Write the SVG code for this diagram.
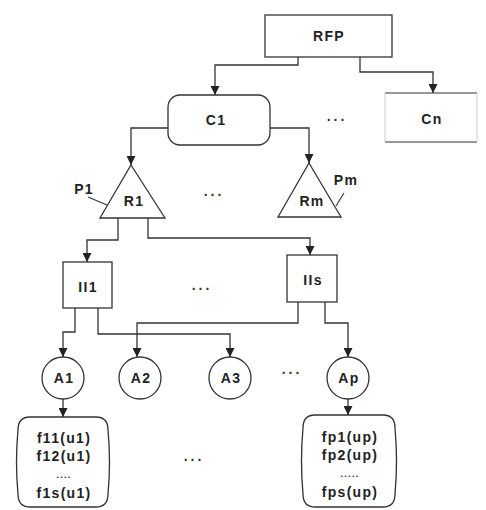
<svg xmlns="http://www.w3.org/2000/svg" width="486" height="510" viewBox="0 0 486 510">
<defs>
<marker id="arr" markerWidth="9" markerHeight="9" refX="9" refY="4.5" orient="auto" markerUnits="userSpaceOnUse">
<path d="M0,0 L9,4.5 L0,9 z" fill="#222"/>
</marker>
<style>
.n{fill:#fff;stroke:#333;stroke-width:1.3}
.t{font-family:"Liberation Sans",Arial,sans-serif;font-size:14px;font-weight:bold;letter-spacing:1.3px;fill:#222;text-anchor:middle;dominant-baseline:central}
.d{font-family:"Liberation Sans",Arial,sans-serif;font-size:14px;font-weight:bold;letter-spacing:3px;fill:#333;text-anchor:middle}
.c{fill:none;stroke:#333;stroke-width:1.3;marker-end:url(#arr)}
.l{fill:none;stroke:#333;stroke-width:1.1}
</style>
</defs>
<rect width="486" height="510" fill="#fff"/>
<g id="connectors">
<path class="c" d="M298,57 V65 H215 V95"/>
<path class="c" d="M360,57 V72 H433 V93"/>
<path class="c" d="M168,128 H131 V165"/>
<path class="c" d="M270,128 H309 V163"/>
<path class="c" d="M118,218 V240 H87 V262"/>
<path class="c" d="M148,218 V238 H310 V255"/>
<path class="c" d="M75,308 V332 H63 V357"/>
<path class="c" d="M98,308 V334 H230 V357"/>
<path class="c" d="M298,302 V323 H137 V357"/>
<path class="c" d="M325,302 V323 H348 V357"/>
<path class="c" d="M63,399 V417"/>
<path class="c" d="M348,399 V415"/>
</g>
<g id="RFP"><rect class="n" x="265" y="15" width="127" height="42"/><text class="t" x="329" y="36">RFP</text></g>
<g id="C1"><rect class="n" x="168" y="95" width="102" height="50" rx="12"/><text class="t" x="216" y="120">C1</text></g>
<g id="Cn"><line class="l" x1="385" y1="93" x2="477" y2="93"/><line class="l" x1="385" y1="142" x2="477" y2="142"/><line x1="385" y1="93" x2="385" y2="142" stroke="#ccc"/><line x1="477" y1="93" x2="477" y2="142" stroke="#ccc"/><text class="t" x="432" y="119">Cn</text></g>
<text class="d" x="337" y="121">...</text>
<g id="R1"><path class="n" d="M131,165 L165,218 L100,218 Z"/><text class="t" x="134" y="201">R1</text><text class="t" x="84" y="189">P1</text><line class="l" x1="88" y1="197" x2="107" y2="205"/></g>
<text class="d" x="214" y="196">...</text>
<g id="Rm"><path class="n" d="M309,163 L341,217 L278,217 Z"/><text class="t" x="312" y="201">Rm</text><text class="t" x="346" y="180">Pm</text><line class="l" x1="336" y1="206" x2="344" y2="193"/></g>
<g id="II1"><rect class="n" x="63" y="262" width="49" height="46"/><text class="t" x="88" y="287">II1</text></g>
<text class="d" x="202" y="290">...</text>
<g id="IIs"><rect class="n" x="287" y="255" width="50" height="47"/><text class="t" x="313" y="280">IIs</text></g>
<g id="A1"><circle class="n" cx="63" cy="378" r="21"/><text class="t" x="64" y="378">A1</text></g>
<g id="A2"><circle class="n" cx="140" cy="378" r="21"/><text class="t" x="141" y="378">A2</text></g>
<g id="A3"><circle class="n" cx="230" cy="378" r="21"/><text class="t" x="231" y="378">A3</text></g>
<text class="d" x="292" y="374">...</text>
<g id="Ap"><circle class="n" cx="348" cy="378" r="21"/><text class="t" x="349" y="378">Ap</text></g>
<g id="F1"><path class="n" d="M30,417 H96 Q108,417 108,430 Q111,462 108,494 Q108,507 96,507 H30 Q18,507 18,494 Q15,462 18,430 Q18,417 30,417 Z"/>
<text class="t" x="64" y="438">f11(u1)</text><text class="t" x="64" y="456">f12(u1)</text><text class="t" x="64" y="475" style="font-size:9px">....</text><text class="t" x="64" y="493">f1s(u1)</text></g>
<text class="d" x="194" y="461">...</text>
<g id="Fp"><path class="n" d="M315,415 H383 Q395,415 395,428 Q398,461 395,494 Q395,507 383,507 H315 Q303,507 303,494 Q300,461 303,428 Q303,415 315,415 Z"/>
<text class="t" x="350" y="437">fp1(up)</text><text class="t" x="350" y="455">fp2(up)</text><text class="t" x="350" y="474" style="font-size:9px">.....</text><text class="t" x="350" y="492">fps(up)</text></g>
</svg>
